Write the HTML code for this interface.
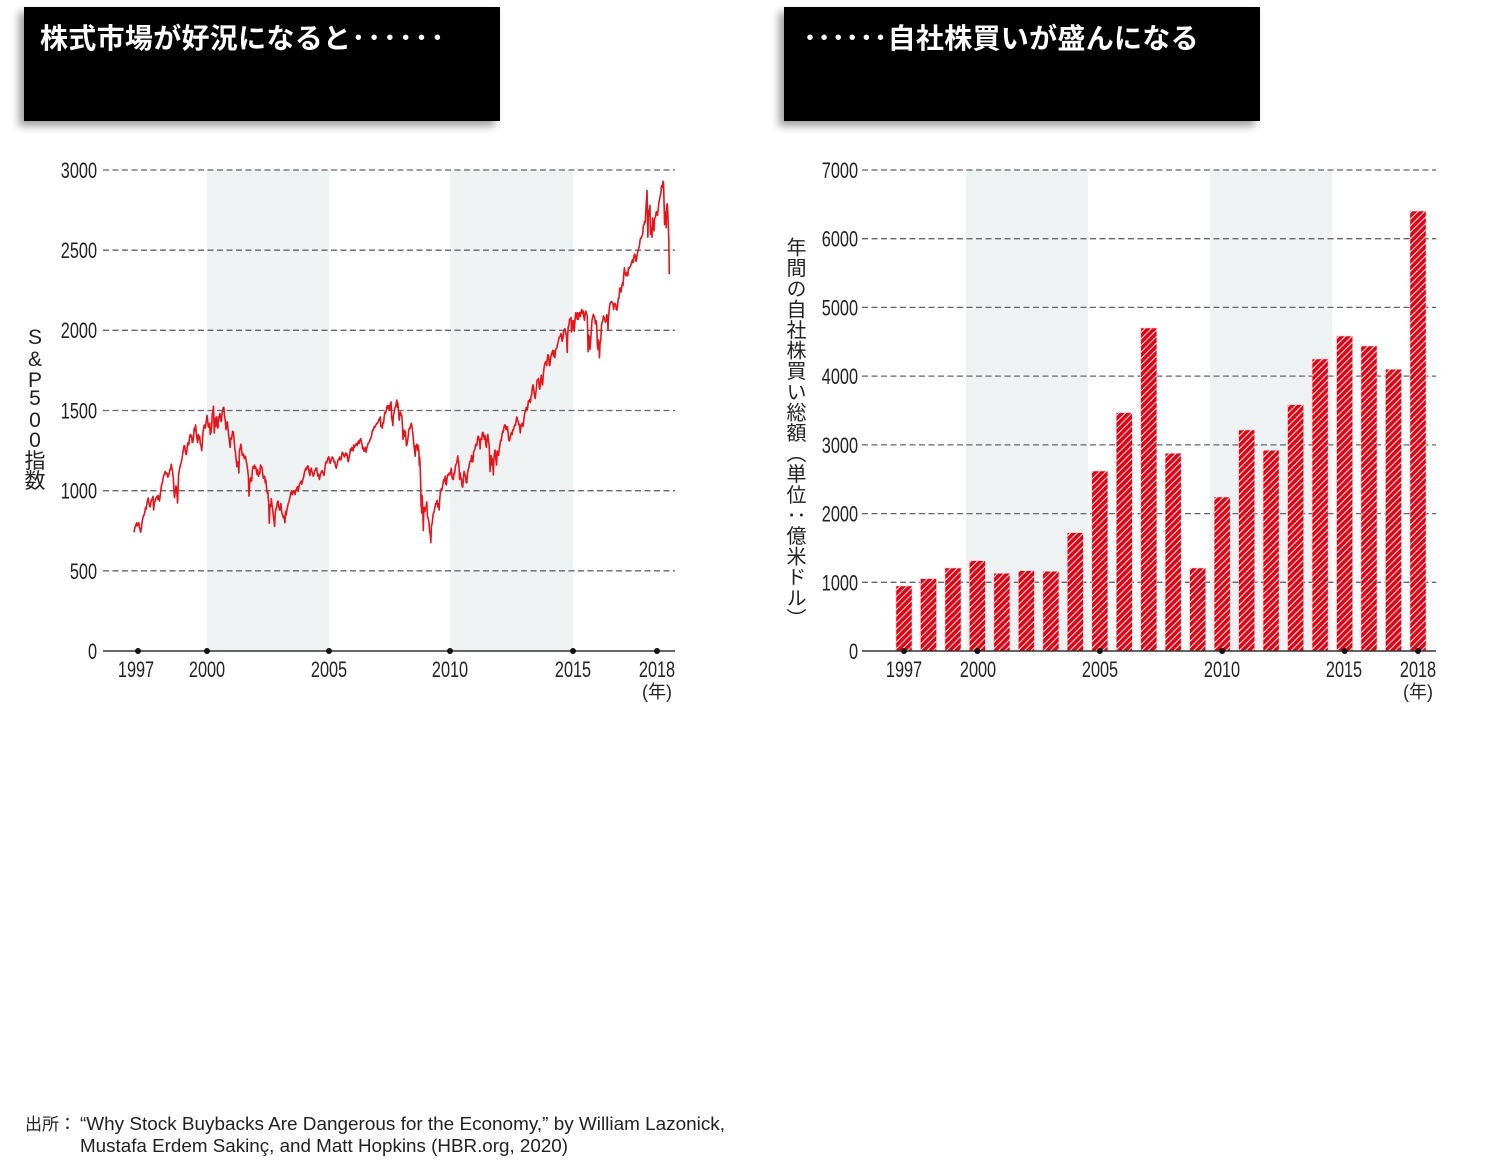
<!DOCTYPE html>
<html><head><meta charset="utf-8">
<style>
html,body{margin:0;padding:0;background:#fff;}
body{width:1500px;height:1160px;position:relative;overflow:hidden;font-family:"Liberation Sans","Noto Sans CJK JP",sans-serif;}
.hdr{position:absolute;top:7px;height:114px;background:#000;box-shadow:-5px 5px 8px rgba(0,0,0,0.38);}
.hdr .t{position:absolute;top:15px;color:#fff;font-family:"Noto Sans CJK JP","Liberation Sans",sans-serif;font-weight:700;font-size:28px;line-height:30px;white-space:nowrap;letter-spacing:0.3px;}
.dots{letter-spacing:1.8px;font-weight:700;}
.dots2{letter-spacing:0.1px;font-weight:700;}
.vlab{position:absolute;writing-mode:vertical-rl;font-family:"Noto Sans CJK JP",sans-serif;font-size:20px;line-height:22px;letter-spacing:0.6px;color:#222;white-space:nowrap;}
</style></head><body>

<div class="hdr" style="left:24px;width:476px;"><div class="t" style="left:16px;">株式市場が好況になると<span class="dots">･･････</span></div></div>
<div class="hdr" style="left:784px;width:476px;"><div class="t" style="left:19px;"><span class="dots2">･･････</span>自社株買いが盛んになる</div></div>

<div class="vlab" style="left:785px;top:237px;">年間の自社株買い総額（単位：億米ドル）</div>

<svg width="1500" height="1160" style="position:absolute;left:0;top:0;" xmlns="http://www.w3.org/2000/svg">
<defs>
<pattern id="hatch" patternUnits="userSpaceOnUse" width="4.6" height="10" patternTransform="rotate(45)">
<rect width="4.6" height="10" fill="#e60012"/>
<line x1="2.3" y1="0" x2="2.3" y2="10" stroke="#fff" stroke-width="1"/>
</pattern>
</defs>

<!-- LEFT CHART -->
<rect x="207" y="170" width="122" height="481" fill="#eef2f2"/>
<rect x="450" y="170" width="123" height="481" fill="#eef2f2"/>
<g stroke="#666" stroke-width="1.3" stroke-dasharray="6 3.5">
<line x1="103" y1="170" x2="675" y2="170"/>
<line x1="103" y1="250.2" x2="675" y2="250.2"/>
<line x1="103" y1="330.3" x2="675" y2="330.3"/>
<line x1="103" y1="410.5" x2="675" y2="410.5"/>
<line x1="103" y1="490.7" x2="675" y2="490.7"/>
<line x1="103" y1="570.8" x2="675" y2="570.8"/>
</g>
<line x1="103" y1="651" x2="675" y2="651" stroke="#333" stroke-width="1.5"/>

<g font-family="Liberation Sans" font-size="22" fill="#222" text-anchor="end">
<text transform="translate(97,178) scale(0.74,1)">3000</text>
<text transform="translate(97,258) scale(0.74,1)">2500</text>
<text transform="translate(97,338) scale(0.74,1)">2000</text>
<text transform="translate(97,418.5) scale(0.74,1)">1500</text>
<text transform="translate(97,498.7) scale(0.74,1)">1000</text>
<text transform="translate(97,579) scale(0.74,1)">500</text>
<text transform="translate(97,659) scale(0.74,1)">0</text>
</g>
<g font-family="Liberation Sans" font-size="22" fill="#222" text-anchor="middle">
<text transform="translate(136,677) scale(0.74,1)">1997</text>
<text transform="translate(207,677) scale(0.74,1)">2000</text>
<text transform="translate(329,677) scale(0.74,1)">2005</text>
<text transform="translate(450,677) scale(0.74,1)">2010</text>
<text transform="translate(573,677) scale(0.74,1)">2015</text>
<text transform="translate(657,677) scale(0.74,1)">2018</text>
</g>
<text x="657" y="698" font-family="Liberation Sans,Noto Sans CJK JP,sans-serif" font-size="18" fill="#222" text-anchor="middle">(年)</text>

<g font-family="Liberation Sans,Noto Sans CJK JP,sans-serif" font-size="21" fill="#222" text-anchor="middle">
<text x="35" y="344">S</text>
<text x="35" y="366">&amp;</text>
<text x="35" y="387">P</text>
<text x="35" y="405">5</text>
<text x="35" y="427">0</text>
<text x="35" y="447">0</text>
<text x="35" y="468">指</text>
<text x="35" y="488">数</text>
</g>

<path vector-effect="non-scaling-stroke" transform="translate(133.95,651) scale(2.0292,-0.16033)" fill="none" stroke="#e8141b" stroke-width="1.6" stroke-linejoin="round" d="M0,740 L0.3,760 0.6,775 1,786 1.3,800 1.6,780 2,791 2.4,800 2.7,770 3,757 3.3,740 3.6,765 4,801 4.4,830 4.7,845 5,848 5.4,870 5.7,895 6,885 6.4,920 6.7,940 7,954 7.4,925 7.7,905 8,899 8.4,930 8.7,945 9,947 9.4,965 9.7,880 10,915 10.4,935 10.7,950 11,955 11.4,965 11.7,945 12,970
12.3,960 12.6,935 13,980 13.4,1020 13.7,1040 14,1049 14.4,1080 14.7,1095 15,1101 15.4,1120 15.7,1105 16,1112 16.4,1105 16.7,1085 17,1091 17.4,1110 17.7,1130 18,1134 18.4,1165 18.7,1140 19,1120 19.4,1080 19.7,1000 20,957 20.4,1000 20.7,1030 21,1017 21.3,960 21.5,923 21.7,990 22,1099 22.4,1130 22.7,1150 23,1164 23.4,1180 23.7,1200 24,1229
24.4,1260 24.7,1280 25,1280 25.4,1240 25.7,1225 26,1238 26.4,1290 26.7,1300 27,1286 27.4,1330 27.7,1350 28,1335 28.4,1345 28.7,1300 29,1302 29.4,1335 29.7,1390 30,1373 30.4,1410 30.7,1360 31,1329 31.4,1300 31.7,1350 32,1320 32.4,1340 32.7,1290 33,1283 33.4,1250 33.7,1300 34,1363 34.4,1395 34.7,1410 35,1389 35.4,1410 35.7,1440 36,1469
36.3,1440 36.6,1400 37,1394 37.3,1420 37.6,1350 38,1366 38.3,1400 38.6,1480 39,1499 39.2,1527 39.4,1440 39.6,1360 40,1452 40.4,1400 40.7,1460 41,1421 41.4,1390 41.7,1460 42,1455 42.4,1480 42.7,1440 43,1431 43.4,1480 43.7,1500 44,1518 44.3,1520 44.6,1470 45,1437 45.4,1380 45.7,1420 46,1429 46.4,1380 46.7,1340 47,1315 47.4,1270 47.7,1330 48,1320
48.3,1340 48.6,1370 49,1366 49.4,1310 49.7,1260 50,1240 50.4,1190 50.7,1150 51,1160 51.3,1180 51.7,1110 52,1249 52.4,1270 52.7,1290 53,1256 53.4,1220 53.7,1230 54,1224 54.4,1200 54.7,1215 55,1211 55.4,1180 55.7,1160 56,1134 56.4,1090 56.6,1000 56.7,966 57,1041 57.4,1080 57.7,1060 58,1060 58.4,1130 58.7,1150 59,1139 59.4,1160 59.7,1140 60,1148
60.4,1120 60.7,1100 61,1130 61.4,1090 61.7,1110 62,1107 62.4,1160 62.7,1150 63,1147 63.4,1110 63.7,1080 64,1076 64.4,1090 64.7,1050 65,1067 65.4,1010 65.7,985 66,990 66.4,920 66.7,797 67,912 67.4,900 67.7,950 68,916 68.4,880 68.7,840 69,815 69.3,777 69.6,860 70,886 70.4,900 70.7,930 71,936 71.4,900 71.7,880 72,880
72.4,920 72.7,880 73,856 73.4,840 73.7,830 74,841 74.4,800 74.7,870 75,848 75.4,880 75.7,900 76,917 76.4,930 76.7,950 77,964 77.4,990 77.7,1000 78,975 78.4,990 78.7,1000 79,990 79.4,975 79.7,1000 80,1008 80.4,1020 80.7,1025 81,996 81.4,1030 81.7,1045 82,1051 82.4,1060 82.7,1040 83,1058 83.4,1075 83.7,1090 84,1112
84.4,1130 84.7,1140 85,1131 85.4,1150 85.7,1155 86,1145 86.4,1110 86.7,1095 87,1126 87.4,1140 87.7,1120 88,1107 88.4,1090 88.7,1100 89,1121 89.4,1130 89.7,1140 90,1141 90.4,1110 90.7,1090 91,1102 91.4,1070 91.7,1090 92,1104 92.4,1120 92.7,1125 93,1115 93.4,1105 93.7,1095 94,1130 94.4,1170 94.7,1180 95,1174 95.4,1195 95.7,1205 96,1212
96.4,1185 96.7,1170 97,1181 97.4,1200 97.7,1210 98,1204 98.4,1195 98.7,1175 99,1181 99.4,1150 99.7,1140 100,1157 100.4,1180 100.7,1195 101,1192 101.4,1210 101.7,1195 102,1191 102.4,1220 102.7,1240 103,1234 103.4,1220 103.7,1210 104,1220 104.4,1235 104.7,1220 105,1229 105.4,1190 105.7,1180 106,1207 106.4,1230 106.7,1260 107,1249 107.4,1270 107.7,1255 108,1248
108.4,1285 108.7,1270 109,1280 109.4,1290 109.7,1295 110,1281 110.4,1300 110.7,1310 111,1295 111.4,1315 111.7,1325 112,1311 112.4,1290 112.7,1260 113,1270 113.4,1245 113.7,1250 114,1270 114.4,1240 114.7,1260 115,1277 115.4,1295 115.7,1300 116,1304 116.4,1320 116.7,1330 117,1336 117.4,1365 117.7,1380 118,1378 118.4,1400 118.7,1395 119,1401 119.4,1415 119.7,1420 120,1418
120.4,1430 120.7,1445 121,1438 121.4,1460 121.7,1400 122,1407 122.4,1390 122.7,1425 123,1421 123.4,1470 123.7,1490 124,1482 124.4,1505 124.7,1525 125,1531 125.4,1510 125.7,1530 126,1503 126.4,1545 126.7,1553 127,1455 127.4,1430 127.6,1406 127.8,1465 128,1474 128.4,1500 128.7,1520 129,1527 129.4,1555 129.6,1565 129.8,1520 130,1549 130.4,1500 130.7,1440 131,1481 131.4,1490 131.7,1470 132,1468
132.3,1410 132.6,1320 132.8,1350 133,1379 133.4,1340 133.7,1370 134,1331 134.3,1280 134.6,1290 135,1323 135.4,1370 135.7,1390 136,1386 136.4,1410 136.7,1420 137,1400 137.4,1360 137.7,1320 138,1280 138.4,1240 138.6,1215 138.8,1280 139,1267 139.4,1290 139.7,1250 140,1283 140.4,1250 140.6,1160 140.8,1210 141,1165 141.3,1050 141.5,900 141.6,980 141.8,860 142,969 142.3,900 142.6,752 142.8,850 143,896 143.4,870 143.7,890 144,903
144.3,930 144.6,840 145,826 145.4,800 145.7,740 146,735 146.3,676 146.6,780 147,798 147.4,850 147.7,860 148,873 148.4,900 148.7,920 149,919 149.4,940 149.7,900 150,919 150.4,880 150.7,950 151,987 151.4,1010 151.7,1000 152,1021 152.4,1050 152.7,1070 153,1057 153.4,1090 153.7,1040 154,1036 154.4,1090 154.7,1100 155,1096 155.4,1110 155.7,1100 156,1115
156.4,1140 156.7,1090 157,1074 157.4,1070 157.7,1110 158,1104 158.4,1150 158.7,1165 159,1169 159.4,1200 159.6,1217 159.8,1180 160,1187 160.3,1120 160.5,1070 160.8,1110 161,1089 161.4,1070 161.7,1030 162,1022 162.4,1080 162.7,1120 163,1102 163.4,1090 163.7,1050 164,1049 164.4,1110 164.7,1130 165,1141 165.4,1170 165.7,1185 166,1183 166.4,1220 166.7,1180 167,1181 167.4,1240 167.7,1250 168,1258
168.4,1290 168.7,1280 169,1286 169.4,1330 169.7,1340 170,1327 170.4,1300 170.6,1260 170.8,1310 171,1326 171.4,1320 171.7,1360 172,1364 172.4,1340 172.7,1320 173,1345 173.4,1290 173.7,1270 174,1321 174.4,1350 174.7,1310 175,1292 175.3,1200 175.5,1120 175.7,1180 176,1219 176.3,1160 176.6,1200 177,1131 177.1,1099 177.4,1200 177.7,1240 178,1253 178.4,1190 178.7,1160 179,1247 179.4,1240 179.7,1220 180,1258
180.4,1290 180.7,1315 181,1312 181.4,1350 181.7,1370 182,1366 182.4,1400 182.7,1410 183,1408 183.4,1380 183.7,1400 184,1398 184.4,1360 184.7,1320 185,1310 185.4,1330 185.7,1350 186,1362 186.4,1350 186.7,1380 187,1379 187.4,1400 187.7,1410 188,1407 188.4,1440 188.7,1460 189,1441 189.4,1430 189.7,1410 190,1412 190.4,1360 190.7,1400 191,1416 191.4,1420 191.7,1400 192,1426
192.4,1470 192.7,1490 193,1498 193.4,1520 193.7,1500 194,1515 194.4,1560 194.7,1555 195,1569 195.4,1550 195.7,1590 196,1598 196.4,1650 196.7,1660 197,1631 197.4,1590 197.7,1575 198,1606 198.4,1650 198.7,1690 199,1686 199.4,1700 199.7,1650 200,1633 200.4,1680 200.7,1720 201,1682 201.4,1660 201.7,1720 202,1757 202.4,1790 202.7,1800 203,1806 203.4,1780 203.7,1820 204,1848
204.4,1840 204.7,1780 205,1783 205.4,1830 205.7,1850 206,1859 206.4,1875 206.7,1840 207,1872 207.4,1830 207.7,1870 208,1884 208.4,1890 208.7,1910 209,1924 209.4,1950 209.7,1960 210,1960 210.4,1980 210.7,1970 211,1931 211.4,1950 211.7,1990 212,2003 212.4,2010 212.7,1990 213,1972 213.3,1940 213.5,1862 213.7,1960 214,2018 214.4,2040 214.7,2070 215,2068 215.4,2080 215.6,1990 216,2059
216.4,2010 216.7,2060 217,1995 217.4,2070 217.7,2110 218,2105 218.4,2070 218.7,2110 219,2068 219.4,2100 219.7,2110 220,2086 220.4,2120 220.7,2130 221,2107 221.4,2120 221.7,2085 222,2063 222.4,2110 222.7,2120 223,2104 223.4,2090 223.6,2000 223.8,1867 224,1972 224.4,1960 224.7,1880 225,1920 225.4,2000 225.7,2060 226,2079 226.4,2100 226.7,2090 227,2080 227.4,2040 227.7,2060 228,2044
228.4,1900 228.7,1880 229,1940 229.3,1870 229.4,1829 229.7,1920 230,1932 230.4,2030 230.7,2050 231,2060 231.4,2090 231.7,2080 232,2065 232.4,2050 232.7,2060 233,2097 233.4,2090 233.6,2000 233.8,2070 234,2099 234.4,2150 234.7,2170 235,2174 235.4,2180 235.7,2175 236,2171 236.4,2130 236.7,2160 237,2168 237.4,2160 237.7,2130 238,2126 238.4,2160 238.7,2200 239,2199 239.4,2260 239.7,2265 240,2239
240.4,2270 240.7,2295 241,2279 241.4,2350 241.7,2390 242,2364 242.4,2340 242.7,2350 243,2363 243.4,2340 243.7,2390 244,2384 244.4,2395 244.7,2400 245,2412 245.4,2430 245.7,2440 246,2423 246.4,2460 246.7,2475 247,2470 247.4,2430 247.7,2445 248,2472 248.4,2500 248.7,2510 249,2519 249.4,2560 249.7,2575 250,2575 250.4,2590 250.7,2600 251,2648 251.4,2660 251.7,2680 252,2674
252.4,2780 252.7,2830 252.85,2873 253.1,2700 253.25,2581 253.5,2720 253.8,2750 254,2714 254.3,2780 254.5,2600 254.8,2620 255,2641 255.3,2580 255.6,2700 256,2648 256.3,2620 256.6,2700 257,2705 257.4,2740 257.7,2720 258,2718 258.4,2760 258.7,2800 259,2816 259.4,2840 259.7,2860 260,2902 260.3,2890 260.6,2920 260.7,2930 261,2914 261.3,2760 261.5,2660 261.7,2740 262,2712 262.3,2640 262.5,2770 262.8,2790 263,2760 263.2,2700 263.4,2630 263.6,2560 263.8,2351"/>

<g fill="#111">
<circle cx="138" cy="651" r="3"/><circle cx="207" cy="651" r="3"/><circle cx="329" cy="651" r="3"/>
<circle cx="450" cy="651" r="3"/><circle cx="573" cy="651" r="3"/><circle cx="657" cy="651" r="3"/>
</g>

<!-- RIGHT CHART -->
<rect x="966" y="170" width="122" height="481" fill="#eef2f2"/>
<rect x="1210" y="170" width="122" height="481" fill="#eef2f2"/>
<g stroke="#666" stroke-width="1.3" stroke-dasharray="6 3.5">
<line x1="862" y1="170" x2="1436" y2="170"/>
<line x1="862" y1="238.7" x2="1436" y2="238.7"/>
<line x1="862" y1="307.4" x2="1436" y2="307.4"/>
<line x1="862" y1="376.1" x2="1436" y2="376.1"/>
<line x1="862" y1="444.9" x2="1436" y2="444.9"/>
<line x1="862" y1="513.6" x2="1436" y2="513.6"/>
<line x1="862" y1="582.3" x2="1436" y2="582.3"/>
</g>
<g font-family="Liberation Sans" font-size="22" fill="#222" text-anchor="end">
<text transform="translate(858,178) scale(0.74,1)">7000</text>
<text transform="translate(858,246.7) scale(0.74,1)">6000</text>
<text transform="translate(858,315.4) scale(0.74,1)">5000</text>
<text transform="translate(858,384.1) scale(0.74,1)">4000</text>
<text transform="translate(858,452.9) scale(0.74,1)">3000</text>
<text transform="translate(858,521.6) scale(0.74,1)">2000</text>
<text transform="translate(858,590.3) scale(0.74,1)">1000</text>
<text transform="translate(858,659) scale(0.74,1)">0</text>
</g>

<g fill="url(#hatch)" stroke="#f6c4c4" stroke-width="0.6">
<rect x="896" y="586" width="16" height="65"/>
<rect x="920.5" y="578.7" width="16" height="72.3"/>
<rect x="945" y="568" width="16" height="83"/>
<rect x="969.4" y="560.7" width="16" height="90.3"/>
<rect x="993.9" y="573.3" width="16" height="77.7"/>
<rect x="1018.4" y="570.7" width="16" height="80.3"/>
<rect x="1042.9" y="571.3" width="16" height="79.7"/>
<rect x="1067.3" y="532.7" width="16" height="118.3"/>
<rect x="1091.8" y="471" width="16" height="180"/>
<rect x="1116.3" y="412.7" width="16" height="238.3"/>
<rect x="1140.8" y="328" width="16" height="323"/>
<rect x="1165.2" y="453.3" width="16" height="197.7"/>
<rect x="1189.7" y="568" width="16" height="83"/>
<rect x="1214.2" y="497" width="16" height="154"/>
<rect x="1238.7" y="430" width="16" height="221"/>
<rect x="1263.1" y="450.3" width="16" height="200.7"/>
<rect x="1287.6" y="404.7" width="16" height="246.3"/>
<rect x="1312.1" y="359" width="16" height="292"/>
<rect x="1336.6" y="336" width="16" height="315"/>
<rect x="1361" y="346" width="16" height="305"/>
<rect x="1385.5" y="369.3" width="16" height="281.7"/>
<rect x="1410" y="211" width="16" height="440"/>
</g>
<line x1="862" y1="651" x2="1436" y2="651" stroke="#333" stroke-width="1.5"/>
<g fill="#111">
<circle cx="904" cy="651" r="3"/><circle cx="977.4" cy="651" r="3"/><circle cx="1099.8" cy="651" r="3"/>
<circle cx="1222.2" cy="651" r="3"/><circle cx="1344.6" cy="651" r="3"/><circle cx="1418" cy="651" r="3"/>
</g>
<g font-family="Liberation Sans" font-size="22" fill="#222" text-anchor="middle">
<text transform="translate(904,677) scale(0.74,1)">1997</text>
<text transform="translate(978,677) scale(0.74,1)">2000</text>
<text transform="translate(1100,677) scale(0.74,1)">2005</text>
<text transform="translate(1222,677) scale(0.74,1)">2010</text>
<text transform="translate(1344,677) scale(0.74,1)">2015</text>
<text transform="translate(1418,677) scale(0.74,1)">2018</text>
</g>
<text x="1418" y="698" font-family="Liberation Sans,Noto Sans CJK JP,sans-serif" font-size="18" fill="#222" text-anchor="middle">(年)</text>

<!-- FOOTER -->
<text x="25" y="1130" font-family="Liberation Sans,Noto Sans CJK JP,sans-serif" font-size="17" fill="#222">出所：</text>
<text x="80" y="1130" font-family="Liberation Sans" font-size="18" fill="#222" textLength="645" lengthAdjust="spacingAndGlyphs">“Why Stock Buybacks Are Dangerous for the Economy,” by William Lazonick,</text>
<text x="80" y="1152" font-family="Liberation Sans" font-size="18" fill="#222" textLength="488" lengthAdjust="spacingAndGlyphs">Mustafa Erdem Sakinç, and Matt Hopkins (HBR.org, 2020)</text>
</svg>
</body></html>
